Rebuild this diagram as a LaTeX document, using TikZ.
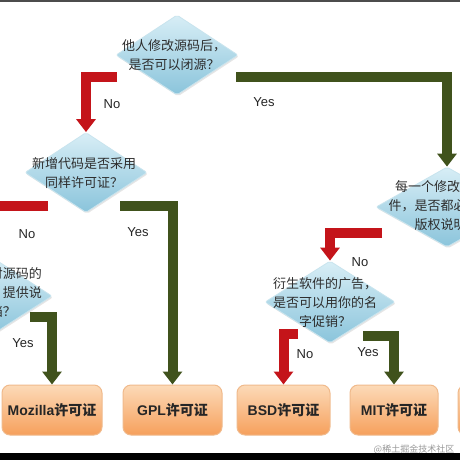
\documentclass[tikz,border=0pt]{standalone}
\usepackage{fontspec}
\setmainfont{Noto Sans CJK SC}
\newfontfamily\lat{Liberation Sans}
\usepackage{tikz}
\usetikzlibrary{shapes.geometric,arrows.meta,shadows}
\definecolor{qtop}{RGB}{216, 238, 246}
\definecolor{qbot}{RGB}{138, 196, 219}
\definecolor{qedge}{RGB}{200, 228, 238}
\definecolor{btop}{RGB}{252, 218, 184}
\definecolor{bbot}{RGB}{246, 160, 92}
\definecolor{bedge}{RGB}{240, 186, 140}
\definecolor{nored}{RGB}{196, 20, 26}
\definecolor{yesgreen}{RGB}{64, 82, 28}
\definecolor{txt}{RGB}{45, 45, 45}

\begin{document}
\begin{tikzpicture}
[dia/.style={diamond, inner sep=0pt, top color=qtop, bottom color=qbot, draw=qedge, line width=0.8pt, rounded corners=2pt, drop shadow={opacity=0.2, shadow xshift=1pt, shadow yshift=-1.5pt}},
 qtxt/.style={align=center, text=txt, font=\fontsize{13}{19}\selectfont},
 lic/.style={rectangle, rounded corners=8pt, minimum height=50pt, top color=btop, bottom color=bbot, draw=bedge, line width=1pt, text=black!85, font=\bfseries\fontsize{14}{14}\selectfont},
 lbl/.style={text=black!85, font=\lat\fontsize{13}{13}\selectfont},
 noarr/.style={draw=nored, line width=10pt, -{Triangle[width=19pt,length=13pt]}},
 yesarr/.style={draw=yesgreen, line width=10pt, -{Triangle[width=19pt,length=13pt]}}]
\clip (0pt, 0pt) rectangle (460pt, -460pt);
\fill [white] (0pt, 0pt) rectangle (460pt, -460pt);
% questions
\node (q1) [dia, minimum width=122pt, minimum height=80pt] at (177.0pt, -55.0pt) {};
\node (q1t) [qtxt] at (174.0pt, -55.0pt) {他人修改源码后，\\是否可以闭源？};
\node (q2) [dia, minimum width=122pt, minimum height=80pt] at (86.0pt, -172.5pt) {};
\node (q2t) [qtxt] at (84.0pt, -173.0pt) {新增代码是否采用\\同样许可证？};
\node (q3) [dia, minimum width=142pt, minimum height=80pt] at (447.0pt, -207.0pt) {};
\node (q3t) [qtxt] at (447.0pt, -205.5pt) {每一个修改过的文\\件，是否都必须放置\\版权说明？};
\node (q4) [dia, minimum width=130pt, minimum height=82pt] at (330.0pt, -302.0pt) {};
\node (q4t) [qtxt] at (325.0pt, -302.5pt) {衍生软件的广告，\\是否可以用你的名\\字促销？};
\node (q5) [dia, minimum width=124pt, minimum height=80pt] at (-10.0pt, -296.0pt) {};
\node (q5t) [qtxt] at (-10.0pt, -293.0pt) {是否需要对源码的\\修改之处，提供说\\明文档？};
% licences
\node (moz) [lic, minimum width=100pt] at (52.0pt, -410.0pt) {{\lat Mozilla}许可证};
\node (gpl) [lic, minimum width=99pt] at (172.5pt, -410.0pt) {{\lat GPL}许可证};
\node (bsd) [lic, minimum width=93pt] at (283.5pt, -410.0pt) {{\lat BSD}许可证};
\node (mit) [lic, minimum width=88pt] at (394.0pt, -410.0pt) {{\lat MIT}许可证};
\node (apa) [lic, minimum width=100pt] at (508.0pt, -410.0pt) {};
% arrows
\coordinate (n1) at (117.0pt, -77.0pt);
\coordinate (y1) at (236.0pt, -77.0pt);
\coordinate (n2) at (48.0pt, -206.0pt);
\coordinate (y2) at (120.0pt, -206.0pt);
\coordinate (n3) at (382.0pt, -233.0pt);
\coordinate (n4) at (298.0pt, -334.0pt);
\coordinate (y4) at (363.0pt, -336.0pt);
\coordinate (y5) at (30.0pt, -317.0pt);
\draw [noarr] (n1) -| (q2.north);
\draw [yesarr] (y1) -| (q3.north);
\draw [noarr] (n2) -| (q5.north);
\draw [yesarr] (y2) -| (gpl.north);
\draw [noarr] (n3) -| (q4.north);
\draw [noarr] (n4) -| (bsd.north);
\draw [yesarr] (y4) -| (mit.north);
\draw [yesarr] (y5) -| (moz.north);
\node (l1) [lbl] at (112.0pt, -104.0pt) {No};
\node (l2) [lbl] at (264.0pt, -102.0pt) {Yes};
\node (l3) [lbl] at (27.0pt, -234.0pt) {No};
\node (l4) [lbl] at (138.0pt, -232.0pt) {Yes};
\node (l5) [lbl] at (360.0pt, -262.0pt) {No};
\node (l6) [lbl] at (305.0pt, -354.0pt) {No};
\node (l7) [lbl] at (368.0pt, -352.0pt) {Yes};
\node (l8) [lbl] at (23.0pt, -343.0pt) {Yes};
% frame
\node (wm) [text=black!40, font=\fontsize{9}{9}\selectfont] at (414.0pt, -449.0pt) {@稀土掘金技术社区};
\fill [black] (0pt, -453.0pt) rectangle (460pt, -460pt);
\fill [black!70] (0pt, 0pt) rectangle (460pt, -2.0pt);
\end{tikzpicture}
\end{document}
